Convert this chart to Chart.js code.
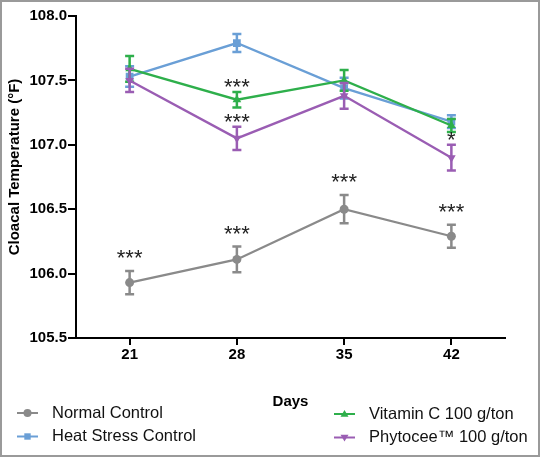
<!DOCTYPE html>
<html>
<head>
<meta charset="utf-8">
<script src="https://cdn.jsdelivr.net/npm/chart.js@4/dist/chart.umd.min.js"></script>
<style>
html, body { margin: 0; padding: 0; background: #fff; }
#wrap { width: 540px; height: 457px; }
</style>
</head>
<body>
<div id="wrap"><canvas id="lineChart" width="540" height="457"></canvas></div>
<script>
var days = ['21', '28', '35', '42'];
var seriesNames = ['Normal Control', 'Heat Stress Control', 'Vitamin C 100 g/ton', 'Phytocee\u2122 100 g/ton'];
var yTitle = 'Cloacal Temperature (\u00b0F)';

var normalControl = [105.93, 106.11, 106.50, 106.29];
var normalControlErr = [0.09, 0.10, 0.11, 0.09];
var heatStress = [107.53, 107.79, 107.44, 107.18];
var heatStressErr = [0.08, 0.07, 0.08, 0.05];
var vitaminC = [107.59, 107.35, 107.50, 107.15];
var vitaminCErr = [0.10, 0.06, 0.08, 0.05];
var phytocee = [107.50, 107.05, 107.38, 106.90];
var phytoceeErr = [0.09, 0.09, 0.10, 0.10];

var normalStars = ['***', '***', '***', '***'];
var heatStars = ['', '', '', ''];
var vitaminStars = ['', '***', '', ''];
var phytoceeStars = ['', '***', '', '*'];

var yTicks = [105.5, 106.0, 106.5, 107.0, 107.5, 108.0];

var FONT = "'Liberation Sans', Arial, sans-serif";

function marker(ctx, style, x, y, r) {
    ctx.beginPath();
    if (style === 'circle') {
        ctx.arc(x, y, r, 0, Math.PI * 2);
    } else if (style === 'rect') {
        ctx.rect(x - r * 0.8, y - r * 0.8, r * 1.6, r * 1.6);
    } else if (style === 'triangle') {
        ctx.moveTo(x, y - r);
        ctx.lineTo(x + r, y + r * 0.7);
        ctx.lineTo(x - r, y + r * 0.7);
    } else {
        ctx.moveTo(x, y + r);
        ctx.lineTo(x + r, y - r * 0.7);
        ctx.lineTo(x - r, y - r * 0.7);
    }
    ctx.closePath();
    ctx.fill();
}

var frame = {
    id: 'frame',
    beforeDraw: function (chart) {
        var ctx = chart.ctx;
        ctx.save();
        ctx.fillStyle = '#fff';
        ctx.fillRect(0, 0, chart.width, chart.height);
        ctx.restore();
    },
    afterDraw: function (chart) {
        var ctx = chart.ctx;
        ctx.save();
        ctx.strokeStyle = '#9a9a9a';
        ctx.lineWidth = 2;
        ctx.strokeRect(1, 1, chart.width - 2, chart.height - 2);
        // y axis title, a bit above the plot centre like the original
        ctx.translate(15, 167);
        ctx.rotate(-Math.PI / 2);
        ctx.fillStyle = '#000';
        ctx.font = 'bold 15px ' + FONT;
        ctx.textAlign = 'center';
        ctx.textBaseline = 'middle';
        ctx.fillText(yTitle, 0, 0);
        ctx.restore();
    }
};

var errorBars = {
    id: 'errorBars',
    afterDatasetDraw: function (chart, args) {
        var ds = chart.data.datasets[args.index];
        var y = chart.scales.y;
        var ctx = chart.ctx;
        ctx.save();
        ctx.strokeStyle = ds.borderColor;
        ctx.lineWidth = 2.5;
        args.meta.data.forEach(function (pt, i) {
            var top = y.getPixelForValue(ds.data[i] + ds.errors[i]);
            var bot = y.getPixelForValue(ds.data[i] - ds.errors[i]);
            ctx.beginPath();
            ctx.moveTo(pt.x, top);
            ctx.lineTo(pt.x, bot);
            ctx.moveTo(pt.x - 4.5, top);
            ctx.lineTo(pt.x + 4.5, top);
            ctx.moveTo(pt.x - 4.5, bot);
            ctx.lineTo(pt.x + 4.5, bot);
            ctx.stroke();
        });
        ctx.restore();
    }
};

var stars = {
    id: 'stars',
    afterDatasetsDraw: function (chart) {
        var ctx = chart.ctx;
        var y = chart.scales.y;
        ctx.save();
        ctx.fillStyle = '#222';
        ctx.font = '22px ' + FONT;
        ctx.textAlign = 'center';
        ctx.textBaseline = 'alphabetic';
        chart.data.datasets.forEach(function (ds, d) {
            var meta = chart.getDatasetMeta(d);
            meta.data.forEach(function (pt, i) {
                if (!ds.stars[i]) return;
                var top = y.getPixelForValue(ds.data[i] + ds.errors[i]);
                ctx.fillText(ds.stars[i], pt.x, top - ds.starGap + 9);
            });
        });
        ctx.restore();
    }
};

var sideLegend = {
    id: 'sideLegend',
    afterDraw: function (chart) {
        var ctx = chart.ctx;
        var cols = [{ x: 17, tx: 52, y: 413 }, { x: 334, tx: 369, y: 414 }];
        ctx.save();
        ctx.font = '16.5px ' + FONT;
        ctx.textBaseline = 'middle';
        ctx.textAlign = 'left';
        chart.data.datasets.forEach(function (ds, i) {
            var c = cols[i < 2 ? 0 : 1];
            var yy = c.y + (i % 2) * 23.5;
            ctx.strokeStyle = ds.borderColor;
            ctx.fillStyle = ds.borderColor;
            ctx.lineWidth = 2;
            ctx.beginPath();
            ctx.moveTo(c.x, yy);
            ctx.lineTo(c.x + 21, yy);
            ctx.stroke();
            marker(ctx, ds.legendMarker, c.x + 10.5, yy, 4);
            ctx.fillStyle = '#111';
            ctx.fillText(ds.label, c.tx, yy);
        });
        ctx.restore();
    }
};

function series(i, data, errs, starList, color, style, rot, radius, order, gap) {
    return {
        label: seriesNames[i],
        data: data,
        errors: errs,
        stars: starList,
        starGap: gap,
        legendMarker: rot ? 'down' : style,
        borderColor: color,
        backgroundColor: color,
        borderWidth: 2.3,
        pointStyle: style,
        pointRotation: rot,
        pointRadius: radius,
        pointBorderWidth: 0,
        pointHoverRadius: radius,
        tension: 0,
        fill: false,
        order: order
    };
}

var ctx = document.getElementById('lineChart');

var config = {
    type: 'line',
    data: {
        labels: days,
        datasets: [
            series(0, normalControl, normalControlErr, normalStars, '#8a8a8a', 'circle', 0, 4.5, 4, 15),
            series(1, heatStress, heatStressErr, heatStars, '#6a9fd6', 'rect', 0, 5.5, 3, 6),
            series(2, vitaminC, vitaminCErr, vitaminStars, '#2eaf4b', 'triangle', 0, 5, 2, 6.5),
            series(3, phytocee, phytoceeErr, phytoceeStars, '#9a5db3', 'triangle', 180, 5, 1, 6.5)
        ]
    },
    options: {
        responsive: false,
        animation: false,
        layout: { padding: { left: 0, top: 16, right: 35, bottom: 0 } },
        plugins: {
            legend: { display: false },
            tooltip: { enabled: false }
        },
        scales: {
            x: {
                type: 'category',
                offset: true,
                afterFit: function (scale) { scale.height = 119; },
                grid: { display: true, drawOnChartArea: false, drawTicks: true, tickLength: 7, color: '#000', lineWidth: 2, offset: false },
                border: { display: true, color: '#000', width: 2 },
                ticks: { color: '#000', padding: 1, font: { family: FONT, size: 15, weight: 'bold' } },
                title: {
                    display: true,
                    text: 'Days',
                    color: '#000',
                    font: { family: FONT, size: 15, weight: 'bold' },
                    padding: { top: 0, bottom: 46 }
                }
            },
            y: {
                min: 105.5,
                max: 108.0,
                afterFit: function (scale) { scale.width = 76; },
                afterBuildTicks: function (scale) {
                    scale.ticks = yTicks.map(function (v) { return { value: v }; });
                },
                grid: { display: true, drawOnChartArea: false, drawTicks: true, tickLength: 8, color: '#000', lineWidth: 2 },
                border: { display: true, color: '#000', width: 2 },
                ticks: {
                    color: '#000',
                    padding: 1,
                    font: { family: FONT, size: 15, weight: 'bold' },
                    callback: function (v) { return Number(v).toFixed(1); }
                }
            }
        }
    },
    plugins: [frame, errorBars, stars, sideLegend]
};

var lineChart = new Chart(ctx, config);
</script>
</body>
</html>
